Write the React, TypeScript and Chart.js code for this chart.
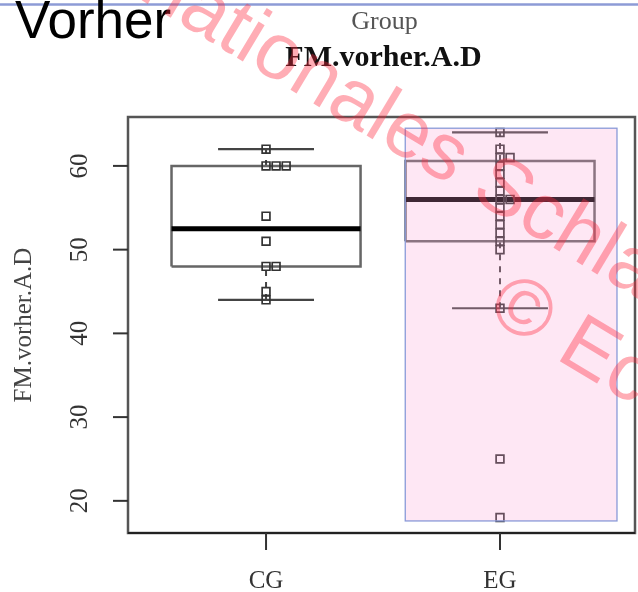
import React, { useEffect, useRef } from 'react';
import { Chart, registerables } from 'chart.js';

Chart.register(...registerables);

// ---- data ----
const categories = ['CG', 'EG'];
const yTicks = [20, 30, 40, 50, 60];
const cgValues = [62, 60, 60, 60, 54, 51, 48, 48, 45, 44];
const egValues = [64, 62, 61, 61, 60, 59, 58, 57, 56, 56, 55, 54, 53, 52, 51, 50, 43, 25, 18];
const boxLower = [48, 51];
const boxMedian = [52.5, 56];
const boxUpper = [60, 60.6];
const whiskerLow = [44, 43];
const whiskerHigh = [62, 64];
const yRange = [16.16, 65.84];
const xRange = [0.41, 2.577];
const highlightX = [1.595, 2.5];
const highlightY = [17.6, 64.5];
const titleTop = 'Group';
const titleMain = 'FM.vorher.A.D';
const yTitle = 'FM.vorher.A.D';
const cornerLabel = 'Vorher';
const watermark1a = 'Internationales ';
const watermark1b = 'Schlaf';
const watermark2 = '© Eco';

// ---- styles ----
const BOX_HALF = 0.404;
const CAP_HALF = 0.205;
const STACK = 0.043;

function stackPoints(values: number[], idx: number) {
  const seen: Record<string, number> = {};
  return values.map((v) => {
    const k = seen[v] || 0;
    seen[v] = k + 1;
    return { x: idx + 1 + k * STACK, y: v };
  });
}

const gap = (x: number) => ({ x, y: null as any });

function buildBoxes() {
  const out: any[] = [];
  categories.forEach((_, i) => {
    const c = i + 1;
    out.push(
      { x: c - BOX_HALF, y: boxLower[i] },
      { x: c + BOX_HALF, y: boxLower[i] },
      { x: c + BOX_HALF, y: boxUpper[i] },
      { x: c - BOX_HALF, y: boxUpper[i] },
      { x: c - BOX_HALF, y: boxLower[i] },
      gap(c)
    );
  });
  return out;
}
function buildMedians() {
  const out: any[] = [];
  categories.forEach((_, i) => {
    const c = i + 1;
    out.push({ x: c - BOX_HALF, y: boxMedian[i] }, { x: c + BOX_HALF, y: boxMedian[i] }, gap(c));
  });
  return out;
}
function buildCaps() {
  const out: any[] = [];
  categories.forEach((_, i) => {
    const c = i + 1;
    out.push(
      { x: c - CAP_HALF, y: whiskerLow[i] },
      { x: c + CAP_HALF, y: whiskerLow[i] },
      gap(c),
      { x: c - CAP_HALF, y: whiskerHigh[i] },
      { x: c + CAP_HALF, y: whiskerHigh[i] },
      gap(c)
    );
  });
  return out;
}
function buildWhiskers() {
  const out: any[] = [];
  categories.forEach((_, i) => {
    const c = i + 1;
    out.push(
      { x: c, y: whiskerLow[i] },
      { x: c, y: boxLower[i] },
      gap(c),
      { x: c, y: boxUpper[i] },
      { x: c, y: whiskerHigh[i] },
      gap(c)
    );
  });
  return out;
}

const decorPlugin = {
  id: 'decor',
  beforeDatasetsDraw(chart: any) {
    const { ctx, chartArea: a, scales } = chart;
    const x = scales.x;
    const y = scales.y;
    const W = chart.width;
    ctx.save();
    // top blue rule
    ctx.strokeStyle = '#8d9bd6';
    ctx.lineWidth = 2.5;
    ctx.beginPath();
    ctx.moveTo(0, 4.5);
    ctx.lineTo(W, 4.5);
    ctx.stroke();
    // corner label
    ctx.fillStyle = '#000';
    ctx.font = '53px "Liberation Sans"';
    ctx.textAlign = 'left';
    ctx.textBaseline = 'alphabetic';
    ctx.fillText(cornerLabel, 15, 38);
    // titles
    const cx = (a.left + a.right) / 2;
    ctx.textAlign = 'center';
    ctx.fillStyle = '#555';
    ctx.font = '26px "Liberation Serif"';
    ctx.fillText(titleTop, cx + 3, 29);
    ctx.fillStyle = '#111';
    ctx.font = 'bold 30px "Liberation Serif"';
    ctx.fillText(titleMain, cx + 2, 66);
    // frame
    ctx.strokeStyle = '#555';
    ctx.lineWidth = 2.5;
    ctx.strokeRect(a.left, a.top, a.right - a.left, a.bottom - a.top);
    ctx.strokeStyle = '#222';
    ctx.lineWidth = 2;
    ctx.beginPath();
    ctx.moveTo(a.left, a.bottom);
    ctx.lineTo(a.right, a.bottom);
    ctx.stroke();
    // y ticks
    ctx.strokeStyle = '#333';
    ctx.lineWidth = 2;
    ctx.fillStyle = '#333';
    ctx.font = '25px "Liberation Serif"';
    yTicks.forEach((v) => {
      const py = y.getPixelForValue(v);
      ctx.beginPath();
      ctx.moveTo(a.left - 15, py);
      ctx.lineTo(a.left, py);
      ctx.stroke();
      ctx.save();
      ctx.translate(80, py);
      ctx.rotate(-Math.PI / 2);
      ctx.textAlign = 'center';
      ctx.textBaseline = 'middle';
      ctx.fillText(String(v), 0, 0);
      ctx.restore();
    });
    // x ticks
    categories.forEach((c, i) => {
      const px = x.getPixelForValue(i + 1);
      ctx.beginPath();
      ctx.moveTo(px, a.bottom);
      ctx.lineTo(px, a.bottom + 17);
      ctx.stroke();
      ctx.textAlign = 'center';
      ctx.textBaseline = 'alphabetic';
      ctx.fillText(c, px, 588);
    });
    // y title
    ctx.save();
    ctx.translate(24, (a.top + a.bottom) / 2);
    ctx.rotate(-Math.PI / 2);
    ctx.textAlign = 'center';
    ctx.textBaseline = 'middle';
    ctx.fillStyle = '#444';
    ctx.font = '25px "Liberation Serif"';
    ctx.fillText(yTitle, 0, 0);
    ctx.restore();
    ctx.restore();
  },
  afterDatasetsDraw(chart: any) {
    const { ctx, scales } = chart;
    const x = scales.x;
    const y = scales.y;
    const x0 = x.getPixelForValue(highlightX[0]);
    const x1 = x.getPixelForValue(highlightX[1]);
    const y0 = y.getPixelForValue(highlightY[1]);
    const y1 = y.getPixelForValue(highlightY[0]);
    ctx.save();
    ctx.fillStyle = 'rgba(250,160,210,0.25)';
    ctx.fillRect(x0, y0, x1 - x0, y1 - y0);
    ctx.strokeStyle = '#8a9ad8';
    ctx.lineWidth = 1.3;
    ctx.strokeRect(x0, y0, x1 - x0, y1 - y0);
    ctx.restore();
  },
  afterDraw(chart: any) {
    const { ctx } = chart;
    const ang = (31 * Math.PI) / 180;
    ctx.save();
    ctx.fillStyle = 'rgba(255,40,60,0.38)';
    ctx.font = '80px "Liberation Sans"';
    ctx.textBaseline = 'middle';
    ctx.save();
    ctx.translate(480, 178);
    ctx.rotate(ang);
    ctx.textAlign = 'right';
    ctx.fillText(watermark1a, 0, 0);
    ctx.textAlign = 'left';
    ctx.fillText(watermark1b, 0, 0);
    ctx.restore();
    ctx.save();
    ctx.translate(496, 297);
    ctx.rotate(ang);
    ctx.textAlign = 'left';
    ctx.fillText(watermark2, 0, 0);
    ctx.restore();
    ctx.restore();
  },
};

export default function App() {
  const ref = useRef<HTMLCanvasElement>(null);
  useEffect(() => {
    document.body.style.margin = '0';
    const canvas = ref.current!;
    const chart = new Chart(canvas, {
      type: 'scatter',
      data: {
        datasets: [
          {
            label: 'CG points',
            data: stackPoints(cgValues, 0),
            pointStyle: 'rect',
            pointRadius: 5.5,
            borderColor: '#333',
            borderWidth: 1.7,
            backgroundColor: 'rgba(0,0,0,0)',
            order: 0,
          } as any,
          {
            label: 'EG points',
            data: stackPoints(egValues, 1),
            pointStyle: 'rect',
            pointRadius: 5.5,
            borderColor: '#333',
            borderWidth: 1.7,
            backgroundColor: 'rgba(0,0,0,0)',
            order: 0,
          } as any,
          {
            type: 'line',
            label: 'boxes',
            data: buildBoxes(),
            showLine: true,
            pointRadius: 0,
            borderColor: '#666',
            borderWidth: 2.5,
            borderJoinStyle: 'miter',
            spanGaps: false,
            fill: false,
            tension: 0,
            order: 3,
          } as any,
          {
            type: 'line',
            label: 'whiskers',
            data: buildWhiskers(),
            showLine: true,
            pointRadius: 0,
            borderColor: '#444',
            borderWidth: 2,
            borderDash: [6, 6],
            spanGaps: false,
            fill: false,
            tension: 0,
            order: 3,
          } as any,
          {
            type: 'line',
            label: 'caps',
            data: buildCaps(),
            showLine: true,
            pointRadius: 0,
            borderColor: '#444',
            borderWidth: 2.2,
            spanGaps: false,
            fill: false,
            tension: 0,
            order: 2,
          } as any,
          {
            type: 'line',
            label: 'medians',
            data: buildMedians(),
            showLine: true,
            pointRadius: 0,
            borderColor: '#000',
            borderWidth: 5,
            spanGaps: false,
            fill: false,
            tension: 0,
            order: 1,
          } as any,
        ],
      },
      options: {
        responsive: false,
        animation: false,
        devicePixelRatio: 1,
        events: [],
        layout: { autoPadding: false, padding: { left: 128, right: 3, top: 117, bottom: 59 } },
        plugins: { legend: { display: false }, tooltip: { enabled: false } },
        scales: {
          x: { type: 'linear', min: xRange[0], max: xRange[1], display: false },
          y: { type: 'linear', min: yRange[0], max: yRange[1], display: false },
        },
      },
      plugins: [decorPlugin],
    });
    return () => chart.destroy();
  }, []);
  return (
    <div style={{ width: 638, height: 592 }}>
      <canvas ref={ref} width={638} height={592} style={{ display: 'block' }} />
    </div>
  );
}
